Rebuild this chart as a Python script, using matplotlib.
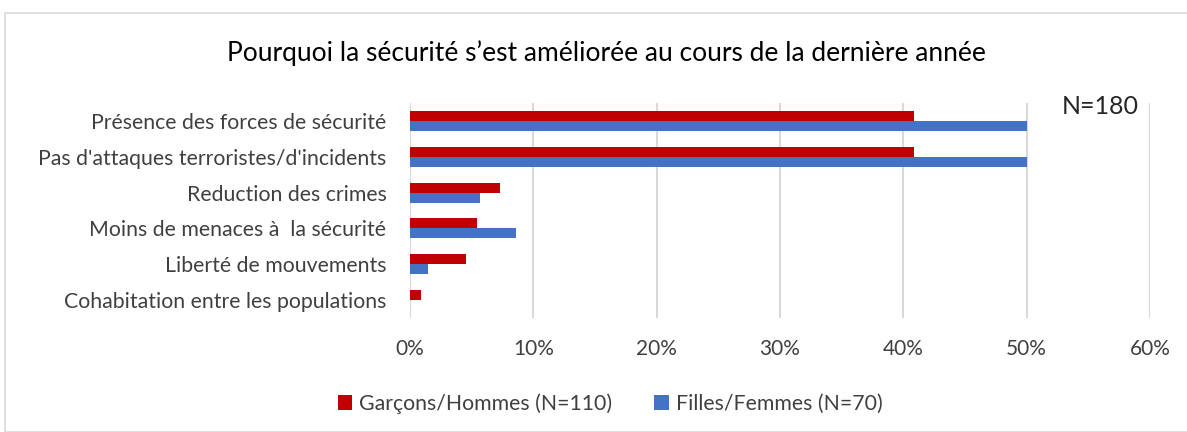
import numpy as np
import matplotlib.pyplot as plt
from matplotlib.patches import Rectangle

plt.rcParams['font.family'] = ['Lato', 'DejaVu Sans']

categories = ['Présence des forces de sécurité',
              "Pas d'attaques terroristes/d'incidents",
              'Reduction des crimes',
              'Moins de menaces à  la sécurité',
              'Liberté de mouvements',
              'Cohabitation entre les populations']
hommes = [0.409, 0.409, 0.0727, 0.0545, 0.0455, 0.0091]
femmes = [0.50, 0.50, 0.057, 0.0857, 0.0143, 0.0]
xticks = [0, 0.1, 0.2, 0.3, 0.4, 0.5, 0.6]

red = '#C00000'
blue = '#4472C4'

fig = plt.figure(figsize=(11.87, 4.32), dpi=100)
fig.patches.append(Rectangle((5/1187, 0.0), 1.0, 1 - 13/432, transform=fig.transFigure,
                             fill=False, edgecolor='#d9d9d9', linewidth=1.2))
ax = fig.add_axes([410/1187, 1 - 318/432, (1150 - 410)/1187, (318 - 103)/432])

y = np.arange(len(categories))
h = 0.28
ax.barh(y - h/2, hommes, height=h, color=red, label='Garçons/Hommes (N=110)', zorder=3)
ax.barh(y + h/2, femmes, height=h, color=blue, label='Filles/Femmes (N=70)', zorder=3)

ax.set_ylim(len(categories) - 0.5, -0.5)
ax.set_xlim(0, 0.6)
ax.set_yticks(y)
ax.set_yticklabels(categories, fontsize=15.3, color='#404040')
ax.set_xticks(xticks)
ax.set_xticklabels(['%d%%' % round(t * 100) for t in xticks], fontsize=15, color='#404040')
ax.tick_params(length=0)
ax.tick_params(axis='y', pad=17)
ax.tick_params(axis='x', pad=15)
ax.grid(axis='x', color='#d9d9d9', linewidth=1.5, zorder=0)
for s in ax.spines.values():
    s.set_visible(False)

fig.text(606/1187, 1 - 53/432, 'Pourquoi la sécurité s’est améliorée au cours de la dernière année',
         ha='center', va='center', fontsize=19, color='black')
fig.text(1100/1187, 1 - 106/432, 'N=180', ha='center', va='center', fontsize=18, color='#262626')

fig.legend(loc='center', bbox_to_anchor=(610/1187, 1 - 404/432), ncol=2, frameon=False,
           fontsize=15.3, handlelength=0.7, handleheight=0.7, columnspacing=2.0, handletextpad=0.3,
           labelcolor='#404040')

fig.savefig('out.png', dpi=100)
